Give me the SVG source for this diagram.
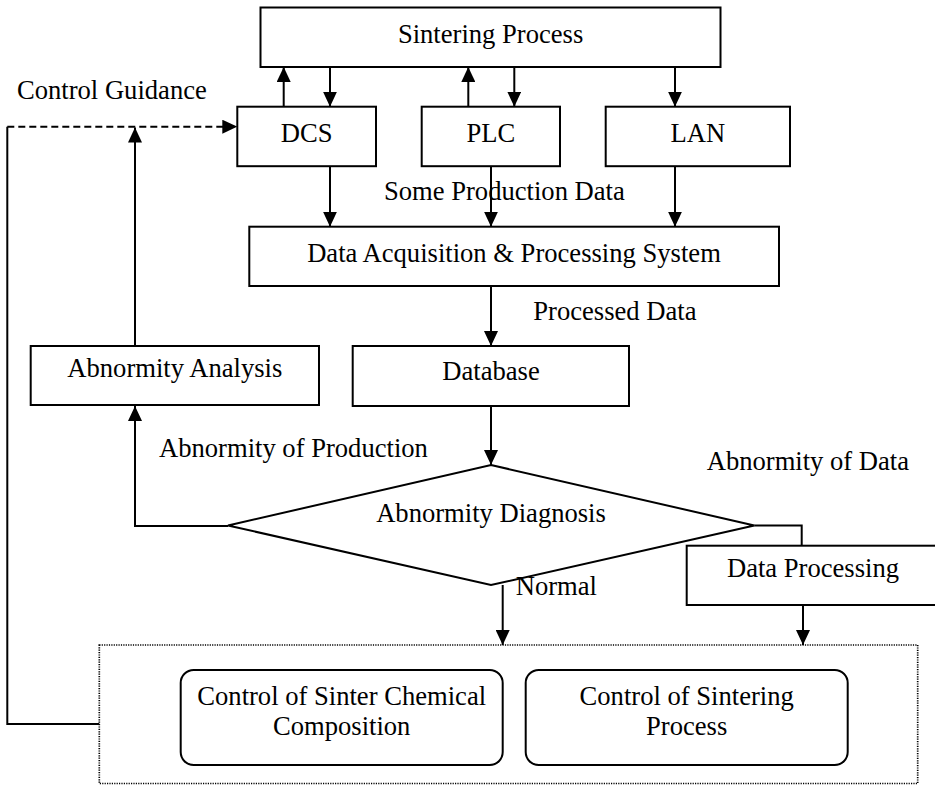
<svg xmlns="http://www.w3.org/2000/svg" width="935" height="785" viewBox="0 0 935 785">
<defs>
<marker id="arr" markerUnits="userSpaceOnUse" markerWidth="15" markerHeight="14" refX="15" refY="7" orient="auto">
<path d="M0,0 L15,7 L0,14 z" fill="#000"/>
</marker>
<style>
.box{fill:#fff;stroke:#000;stroke-width:2}
.rbox{fill:#fff;stroke:#000;stroke-width:2}
.dot{fill:none;stroke:#000;stroke-width:1.7;stroke-dasharray:1.2 1.2}
.t{font-family:"Liberation Serif","Times New Roman",serif;font-size:26.6px;fill:#000}
.c{text-anchor:middle}
.ln{fill:none;stroke:#000;stroke-width:2}
.ar{marker-end:url(#arr)}
.dash{stroke-dasharray:7 4}
</style>
</defs>
<rect width="935" height="785" fill="#fff"/>

<g id="control-area">
<rect class="dot" x="99.3" y="645" width="818.4" height="138.5"/>
</g>

<g id="connectors">
<path class="ln ar" d="M283.7,106.7 L283.7,67"/>
<path class="ln ar" d="M330,67 L330,106.7"/>
<path class="ln ar" d="M468.3,106.7 L468.3,67"/>
<path class="ln ar" d="M514.3,67 L514.3,106.7"/>
<path class="ln ar" d="M675,67 L675,106.7"/>
<path class="ln ar" d="M330,166 L330,226.7"/>
<path class="ln ar" d="M491,166 L491,226.7"/>
<path class="ln ar" d="M675,166 L675,226.7"/>
<path class="ln ar" d="M491,286 L491,346"/>
<path class="ln ar" d="M491,406 L491,465"/>
<path class="ln ar" d="M228,526 L135,526 L135,406"/>
<path class="ln ar" d="M135,346 L135,127.5"/>
<path class="ln" d="M99.3,724 L7.3,724 L7.3,126.7"/>
<path class="ln ar dash" d="M7.3,126.7 L237.3,126.7"/>
<path class="ln" d="M754.3,525.5 L801.7,525.5 L801.7,545.7"/>
<path class="ln ar" d="M803,605 L803,645"/>
<path class="ln ar" d="M502.7,585 L502.7,645"/>
</g>

<g id="sintering-process">
<rect class="box" x="260.5" y="7.5" width="460" height="59.5"/>
<text class="t c" x="490.6" y="43">Sintering Process</text>
</g>

<g id="label-control-guidance">
<text class="t" x="17" y="98.5">Control Guidance</text>
</g>

<g id="dcs">
<rect class="box" x="237.3" y="106.7" width="138.7" height="59.5"/>
<text class="t c" x="306.7" y="141.7">DCS</text>
</g>

<g id="plc">
<rect class="box" x="421.7" y="106.7" width="138.3" height="59.5"/>
<text class="t c" x="490.8" y="141.7">PLC</text>
</g>

<g id="lan">
<rect class="box" x="605.7" y="106.7" width="184.3" height="59.5"/>
<text class="t c" x="697.8" y="141.7">LAN</text>
</g>

<g id="label-some-production-data">
<text class="t" x="384" y="200">Some Production Data</text>
</g>

<g id="data-acquisition">
<rect class="box" x="249.3" y="226.7" width="529.7" height="59.3"/>
<text class="t c" x="514" y="261.7">Data Acquisition &amp; Processing System</text>
</g>

<g id="label-processed-data">
<text class="t" x="533.3" y="320">Processed Data</text>
</g>

<g id="abnormity-analysis">
<rect class="box" x="30.7" y="346" width="288.3" height="59"/>
<text class="t c" x="174.8" y="377.3">Abnormity Analysis</text>
</g>

<g id="database">
<rect class="box" x="352.7" y="346" width="276.3" height="60"/>
<text class="t c" x="491" y="380">Database</text>
</g>

<g id="label-abnormity-production">
<text class="t" x="159" y="456.7">Abnormity of Production</text>
</g>

<g id="label-abnormity-data">
<text class="t" x="706.7" y="470">Abnormity of Data</text>
</g>

<g id="abnormity-diagnosis">
<polygon class="box" points="491,465 754.3,525.5 491,585 228,525.5"/>
<text class="t c" x="491" y="521.7">Abnormity Diagnosis</text>
</g>

<g id="data-processing">
<rect class="box" x="686.7" y="545.7" width="254" height="59.3"/>
<text class="t c" x="813" y="577">Data Processing</text>
</g>

<g id="label-normal">
<text class="t" x="515.7" y="595">Normal</text>
</g>

<g id="control-chemical">
<rect class="rbox" x="180.7" y="670" width="322" height="95" rx="13" ry="13"/>
<text class="t c" x="341.7" y="705">Control of Sinter Chemical</text>
<text class="t c" x="341.7" y="735">Composition</text>
</g>

<g id="control-sintering">
<rect class="rbox" x="525.7" y="670" width="322" height="95" rx="13" ry="13"/>
<text class="t c" x="686.7" y="705">Control of Sintering</text>
<text class="t c" x="686.7" y="735">Process</text>
</g>
</svg>
